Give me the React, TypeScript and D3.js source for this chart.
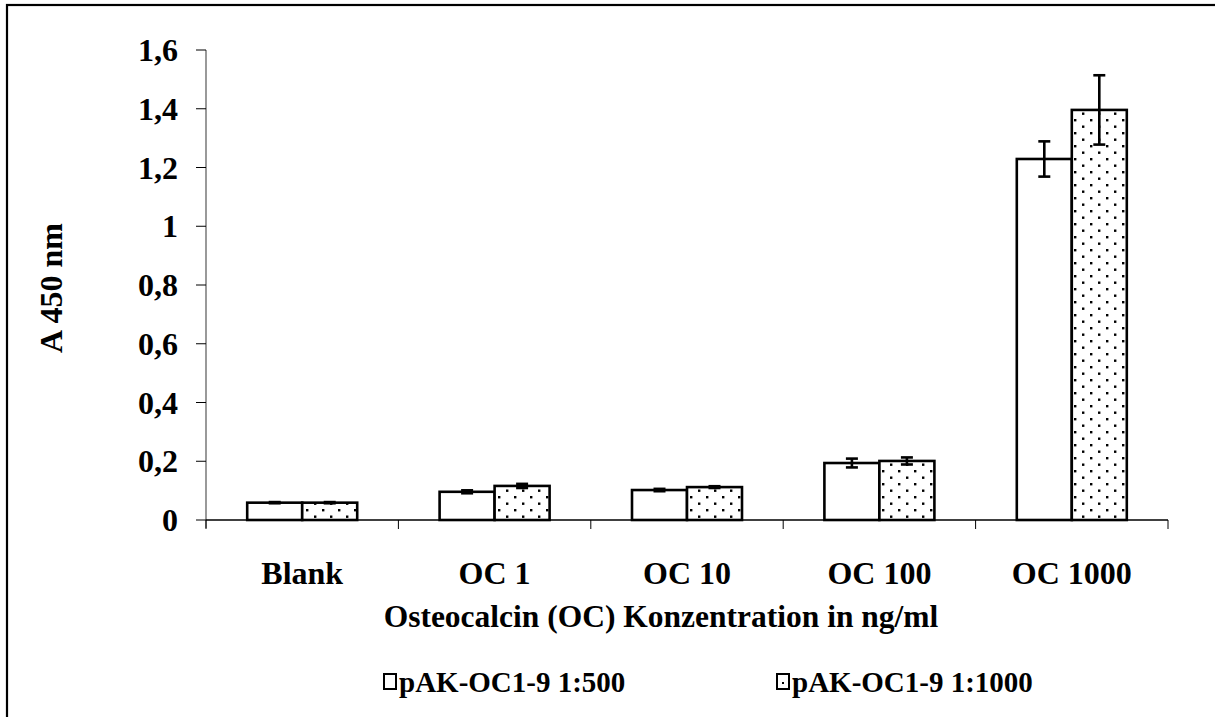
import React from "react";
import * as d3 from "d3";

const categories = ["Blank", "OC 1", "OC 10", "OC 100", "OC 1000"];
const seriesNames = ["pAK-OC1-9 1:500", "pAK-OC1-9 1:1000"];
const valuesDil500 = [0.059, 0.096, 0.102, 0.194, 1.229];
const errorsDil500 = [0.002, 0.005, 0.004, 0.015, 0.06];
const valuesDil1000 = [0.059, 0.116, 0.112, 0.201, 1.396];
const errorsDil1000 = [0.002, 0.007, 0.003, 0.012, 0.118];
const yTicks = [0, 0.2, 0.4, 0.6, 0.8, 1, 1.2, 1.4, 1.6];

const W = 1215;
const H = 717;
const left = 206;
const right = 1168;
const top = 50;
const bottom = 520;

const FONT = "'Liberation Serif', 'Times New Roman', serif";

export default function App() {
  const x = d3.scaleBand<string>().domain(categories).range([left, right]).paddingInner(0).paddingOuter(0);
  const y = d3.scaleLinear().domain([0, 1.6]).range([bottom, top]);
  const barW = 55;
  const fmt = (v: number) => (v === 0 ? "0" : String(v).replace(".", ","));

  const series = [
    { name: seriesNames[0], values: valuesDil500, errors: errorsDil500, fill: "#fff" },
    { name: seriesNames[1], values: valuesDil1000, errors: errorsDil1000, fill: "url(#dots)" },
  ];

  return (
    <svg width={W} height={H} style={{ position: "absolute", left: 0, top: 0, background: "#fff" }}>
      <defs>
        <pattern id="dots" patternUnits="userSpaceOnUse" width={16} height={13}>
          <rect width={16} height={13} fill="#fff" />
          <rect x={2} y={2} width={2.4} height={2.4} fill="#000" />
          <rect x={10} y={8.5} width={2.4} height={2.4} fill="#000" />
        </pattern>
      </defs>
      {/* outer frame */}
      <rect x={7} y={5} width={W + 20} height={H + 20} fill="none" stroke="#000" strokeWidth={2.2} />

      {/* y axis */}
      <line x1={left} x2={left} y1={top} y2={bottom + 8} stroke="#808080" strokeWidth={1.6} />
      {yTicks.map((t) => (
        <g key={t}>
          <line x1={left - 10} x2={left} y1={y(t)} y2={y(t)} stroke="#000" strokeWidth={1} />
          <text x={left - 28} y={y(t)} dy="0.35em" textAnchor="end" fontFamily={FONT} fontWeight="bold" fontSize={32}>
            {fmt(t)}
          </text>
        </g>
      ))}

      {/* bars */}
      {categories.map((c, i) => {
        const cx = x(c)! + x.bandwidth() / 2;
        return (
          <g key={c}>
            {series.map((s, j) => {
              const x0 = cx - barW + j * barW;
              const v = s.values[i];
              const ex = x0 + barW / 2;
              const e = s.errors[i];
              return (
                <g key={s.name}>
                  <rect x={x0} y={y(v)} width={barW} height={bottom - y(v)} fill={s.fill} stroke="#000" strokeWidth={2.6} />
                  <g stroke="#000" strokeWidth={2.6}>
                    <line x1={ex} x2={ex} y1={y(v + e)} y2={y(v - e)} />
                    <line x1={ex - 6} x2={ex + 6} y1={y(v + e)} y2={y(v + e)} />
                    <line x1={ex - 6} x2={ex + 6} y1={y(v - e)} y2={y(v - e)} />
                  </g>
                </g>
              );
            })}
            <text x={cx} y={584} textAnchor="middle" fontFamily={FONT} fontWeight="bold" fontSize={32}>
              {c}
            </text>
          </g>
        );
      })}

      {/* x axis */}
      <line x1={left} x2={right} y1={bottom} y2={bottom} stroke="#000" strokeWidth={1.4} />
      {categories.concat([""]).map((c, i) => {
        const tx = left + i * x.bandwidth();
        return <line key={i} x1={tx} x2={tx} y1={bottom} y2={bottom + 9} stroke="#000" strokeWidth={1} />;
      })}

      {/* axis titles */}
      <text x={661} y={627} textAnchor="middle" fontFamily={FONT} fontWeight="bold" fontSize={31.5}>
        Osteocalcin (OC) Konzentration in ng/ml
      </text>
      <text transform={`translate(62, 288) rotate(-90)`} textAnchor="middle" fontFamily={FONT} fontWeight="bold" fontSize={32}>
        A 450 nm
      </text>

      {/* legend */}
      {series.map((s, j) => {
        const lx = j === 0 ? 384 : 777;
        return (
          <g key={s.name}>
            <rect x={lx} y={674} width={12} height={15} fill="#fff" stroke="#000" strokeWidth={2} />
            {j === 1 && <rect x={lx + 5} y={682} width={2} height={2} fill="#000" />}
            <text x={lx + 15} y={692} fontFamily={FONT} fontWeight="bold" fontSize={29}>
              {s.name}
            </text>
          </g>
        );
      })}
    </svg>
  );
}
